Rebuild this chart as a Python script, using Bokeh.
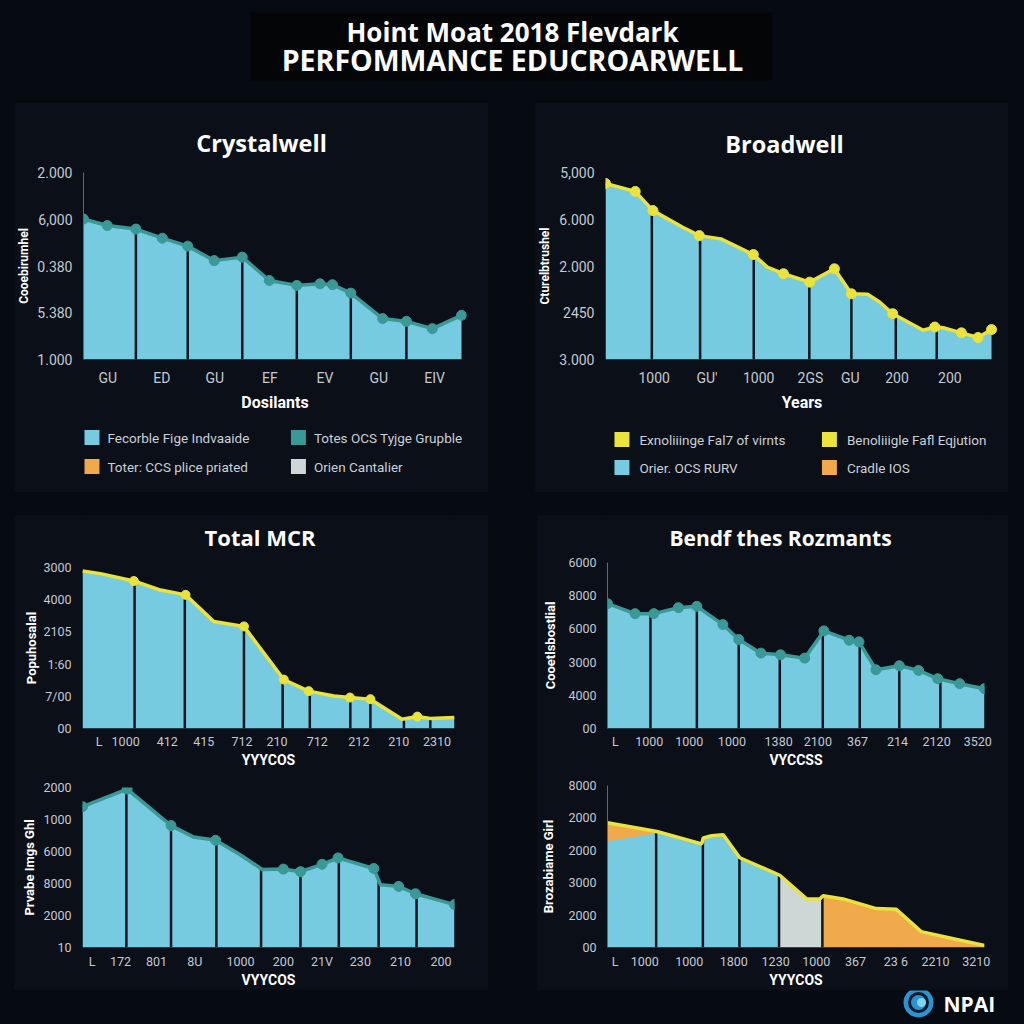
import numpy as np
from bokeh.plotting import figure
from bokeh.models import Range1d, FixedTicker
from bokeh.layouts import row, column
from bokeh.embed import file_html
from bokeh.resources import INLINE
from bokeh.core.properties import value

# ---------------- data ----------------
main_title_1 = "Hoint Moat 2018 Flevdark"
main_title_2 = "PERFOMMANCE EDUCROARWELL"

# Panel 1: Crystalwell
crystal_title = "Crystalwell"
crystal_x = [0, 0.44, 0.97, 1.46, 1.93, 2.42, 2.94, 3.44, 3.95, 4.38, 4.61, 4.95, 5.54, 5.98, 6.46, 7.0]
crystal_y = [4005, 3865, 3790, 3595, 3425, 3115, 3190, 2690, 2585, 2620, 2600, 2420, 1875, 1815, 1660, 1945]
crystal_dividers = [0.97, 1.93, 2.94, 3.95, 4.95, 5.98]
crystal_xticks = [0.45, 1.45, 2.43, 3.45, 4.47, 5.47, 6.5]
crystal_xlabels = ["GU", "ED", "GU", "EF", "EV", "GU", "EIV"]
crystal_yticks = [1000, 2000, 3000, 4000, 5000]
crystal_ylabels = ["1.000", "5.380", "0.380", "6,000", "2.000"]
crystal_legend = ["Fecorble Fige Indvaaide", "Totes OCS Tyjge Grupble",
                  "Toter: CCS plice priated", "Orien Cantalier"]

# Panel 2: Broadwell
broad_title = "Broadwell"
broad_x = [0, 7.7, 12.3, 20.0, 24.3, 29.9, 38.3, 41.9, 46.1, 52.9, 59.3, 63.7, 67.9, 71.0,
           74.4, 82.3, 85.3, 87.5, 92.2, 96.5, 100]
broad_y = [4765, 4595, 4185, 3830, 3650, 3580, 3245, 2975, 2835, 2655, 2940, 2405, 2395, 2230,
           1980, 1625, 1695, 1680, 1570, 1470, 1640]
broad_marked = [1, 1, 1, 0, 1, 0, 1, 0, 1, 1, 1, 1, 0, 0, 1, 0, 1, 0, 1, 1, 1]
broad_dividers = [12.0, 24.5, 38.4, 52.8, 63.7, 75.2, 85.8]
broad_xticks = [12.6, 26.3, 39.7, 53.1, 63.4, 75.5, 89.2]
broad_xlabels = ["1000", "GU'", "1000", "2GS", "GU", "200", "200"]
broad_yticks = [1000, 2000, 3000, 4000, 5000]
broad_ylabels = ["3.000", "2450", "2.000", "6.000", "5,000"]
broad_legend = ["Exnoliiinge Fal7 of virnts", "Benoliiigle Fafl Eqjution",
                "Orier. OCS RURV", "Cradle IOS"]

# Panel 3: Total MCR
mcr_title = "Total MCR"
mcr_x = [0, 4.8, 13.8, 21.0, 27.7, 35.3, 43.4, 54.1, 60.8, 67.6, 71.9, 77.4, 85.9, 90.0, 93.5, 100]
mcr_y = [4.89, 4.81, 4.58, 4.30, 4.15, 3.32, 3.17, 1.52, 1.16, 1.01, 0.96, 0.91, 0.29, 0.37, 0.31, 0.34]
mcr_marked = [0, 0, 1, 0, 1, 0, 1, 1, 1, 0, 1, 1, 0, 1, 0, 0]
mcr_dividers = [14.0, 27.5, 43.4, 53.8, 61.1, 72.0, 77.4, 86.4, 93.5]
mcr_xticks = [4.5, 11.6, 22.8, 32.6, 42.9, 52.3, 63.1, 74.3, 85.0, 95.3]
mcr_xlabels = ["L", "1000", "412", "415", "712", "210", "712", "212", "210", "2310"]
mcr_yticks = [0, 1, 2, 3, 4, 5]
mcr_ylabels = ["00", "7/00", "1:60", "2105", "4000", "3000"]

# Panel 4: Bendf thes Rozmants
bendf_title = "Bendf thes Rozmants"
bendf_x = [0, 7.3, 12.3, 18.8, 23.7, 30.6, 34.8, 40.7, 45.9, 52.3, 57.4, 64.1, 66.7, 71.2,
           77.4, 82.5, 87.6, 93.4, 100]
bendf_y = [3.76, 3.46, 3.46, 3.64, 3.68, 3.13, 2.68, 2.27, 2.22, 2.12, 2.94, 2.66, 2.61, 1.77,
           1.89, 1.75, 1.50, 1.35, 1.20]
bendf_dividers = [11.4, 23.7, 34.8, 45.7, 57.1, 66.9, 77.4, 88.3]
bendf_xticks = [2.1, 11.1, 21.7, 33.0, 45.4, 55.8, 66.3, 76.9, 87.3, 98.2]
bendf_xlabels = ["L", "1000", "1000", "1000", "1380", "2100", "367", "214", "2120", "3520"]
bendf_yticks = [0, 1, 2, 3, 4, 5]
bendf_ylabels = ["00", "4000", "3000", "6000", "8000", "6000"]

# Panel 5: lower-left chart
p5_x = [0, 12.0, 23.8, 29.9, 35.8, 42.5, 48.3, 54.0, 58.6, 64.4, 68.7, 78.3, 80.1, 85.0, 89.5, 100]
p5_y = [4.40, 4.95, 3.81, 3.45, 3.35, 2.89, 2.44, 2.45, 2.37, 2.60, 2.80, 2.47, 1.96, 1.91, 1.68, 1.34]
p5_marked = [1, 1, 1, 0, 1, 0, 0, 1, 1, 1, 1, 1, 0, 1, 1, 1]
p5_dividers = [11.8, 23.8, 36.0, 48.0, 58.6, 68.9, 79.6, 89.8]
p5_xticks = [2.6, 10.2, 19.9, 30.2, 42.5, 54.0, 64.4, 74.7, 85.5, 96.4]
p5_xlabels = ["L", "172", "801", "8U", "1000", "200", "21V", "230", "210", "200"]
p5_yticks = [0, 1, 2, 3, 4, 5]
p5_ylabels = ["10", "2000", "8000", "6000", "1000", "2000"]

# Panel 6: lower-right chart (stacked colour regions)
p6_x = [0, 13.1, 25.0, 25.4, 27.6, 30.7, 35.1, 45.7, 52.8, 56.3, 57.2, 62.5, 71.3, 76.6, 83.2, 100]
p6_total = [3.85, 3.58, 3.20, 3.38, 3.45, 3.48, 2.77, 2.23, 1.50, 1.50, 1.60, 1.50, 1.20, 1.18, 0.49, 0.06]
p6_base_x = [0, 13.1]
p6_base = [3.28, 3.53]
p6_bounds = [0, 45.5, 57.0, 100]
p6_dividers = [12.9, 25.3, 35.0, 45.5, 57.0]
p6_xticks = [2.0, 9.9, 21.7, 33.5, 44.6, 55.4, 65.8, 76.5, 87.0, 97.8]
p6_xlabels = ["L", "1000", "1000", "1800", "1230", "1000", "367", "23 6", "2210", "3210"]
p6_yticks = [0, 1, 2, 3, 4, 5]
p6_ylabels = ["00", "2000", "3000", "2000", "2000", "8000"]

# ---------------- style ----------------
PAGE_BG = "#060a11"
PANEL_BG = "#0a0f18"
BLUE = "#77cbe0"
TEAL = "#3a9896"
YELLOW = "#e9e33c"
ORANGE = "#f0a94b"
GRAY = "#cdd7d6"
DIV = "#0c1520"
TICK = "#c3cad2"


def plain(width, height, xr, yr, bg, left=0, right=0):
    f = figure(width=width, height=height, x_range=Range1d(*xr), y_range=Range1d(*yr),
               output_backend="svg", toolbar_location=None, x_axis_location=None,
               y_axis_location=None, min_border=0, background_fill_color=bg,
               border_fill_color=bg)
    f.min_border_left = left
    f.min_border_right = right
    f.outline_line_color = None
    f.grid.visible = False
    return f


def filler(width, height):
    return plain(width, height, (0, 1), (0, 1), PAGE_BG)


def title_fig(width, height, fig_x0, fig_y0, left, right, text, cx, cy, size):
    # frame in page coordinates
    f = plain(width, height, (fig_x0 + left, fig_x0 + width - right),
              (fig_y0 + height, fig_y0), PANEL_BG, left=left, right=right)
    f.text(x=[cx], y=[cy], text=[text], text_align="center", text_baseline="middle",
           text_font=value("Open Sans"), text_font_style="bold", text_font_size=size,
           text_color="white")
    return f


def chart(width, height, borders, x_lim, y_lim, y_ticks, y_labels, x_ticks, x_labels,
          x_title, y_title, big=False, ylab_standoff=5, xlab_standoff=4, xlabel_standoff=10,
          yline=False, ytitle_size="12px"):
    l, r, t, b = borders
    p = figure(width=width, height=height, x_range=Range1d(*x_lim), y_range=Range1d(*y_lim),
               output_backend="svg", toolbar_location=None, title=None,
               min_border_left=l, min_border_right=r, min_border_top=t, min_border_bottom=b,
               background_fill_color=PANEL_BG, border_fill_color=PANEL_BG)
    p.outline_line_color = None
    p.xgrid.visible = False
    p.ygrid.visible = False
    tick_fs = "14px" if big else "12.5px"
    for ax in (p.xaxis[0], p.yaxis[0]):
        ax.major_tick_line_color = None
        ax.minor_tick_line_color = None
        ax.major_tick_out = 0
        ax.major_tick_in = 0
        ax.minor_tick_out = 0
        ax.minor_tick_in = 0
        ax.major_label_text_font = "Roboto"
        ax.major_label_text_font_size = tick_fs
        ax.major_label_text_color = TICK
        ax.axis_label_text_font = "Roboto"
        ax.axis_label_text_font_style = "bold"
        ax.axis_label_text_color = "white"
    xa, ya = p.xaxis[0], p.yaxis[0]
    xa.axis_line_color = None
    ya.axis_line_color = "#5f6873" if yline else None
    xa.ticker = FixedTicker(ticks=x_ticks)
    xa.major_label_overrides = {k: v for k, v in zip(x_ticks, x_labels)}
    ya.ticker = FixedTicker(ticks=y_ticks)
    ya.major_label_overrides = {k: v for k, v in zip(y_ticks, y_labels)}
    xa.major_label_standoff = xlabel_standoff
    ya.major_label_standoff = 11
    xa.axis_label = x_title
    ya.axis_label = y_title
    xa.axis_label_standoff = xlab_standoff
    ya.axis_label_standoff = ylab_standoff
    xa.axis_label_text_font_size = "16px" if big else "14px"
    ya.axis_label_text_font_size = ytitle_size
    return p


def area(p, xs, ys, base, dividers, line_color, marked=None, msize=10):
    xs = np.asarray(xs, dtype=float)
    ys = np.asarray(ys, dtype=float)
    p.varea(x=xs, y1=base, y2=ys, fill_color=BLUE)
    d = np.asarray(dividers, dtype=float)
    p.segment(x0=d, y0=base, x1=d, y1=np.interp(d, xs, ys), line_color=DIV, line_width=2.5)
    p.line(xs, ys, line_color=line_color, line_width=3.5)
    m = np.ones(len(xs), bool) if marked is None else np.asarray(marked, bool)
    p.scatter(xs[m], ys[m], size=msize, fill_color=line_color, line_color=line_color)


def legend_fig(width, fig_x0, left, right, labels, colors, col_x, text_x, row_y):
    # frame spans page x (fig_x0+left .. fig_x0+width-right); page y 415 (top) .. 492 (bottom)
    f = plain(width, 77, (fig_x0 + left, fig_x0 + width - right), (492, 415), PANEL_BG,
              left=left, right=right)
    sx = np.array([col_x[0], col_x[1], col_x[0], col_x[1]], float)
    tx = np.array([text_x[0], text_x[1], text_x[0], text_x[1]], float)
    sy = np.array([row_y[0], row_y[0], row_y[1], row_y[1]], float)
    f.quad(left=sx, right=sx + 15, top=sy - 7.5, bottom=sy + 7.5, fill_color=colors,
           line_color=None)
    f.text(x=tx, y=sy, text=labels, text_align="left", text_baseline="middle",
           text_font=value("Roboto"), text_font_size="13.5px", text_color="#c9d0d7")
    return f


# ---------------- header (page y 0..103) ----------------
hdr = plain(1024, 103, (0, 1024), (103, 0), PAGE_BG)
hdr.quad(left=[250], right=[772], top=[12], bottom=[80], fill_color="#040507", line_color=None)
hdr.text(x=[512], y=[31], text=[main_title_1], text_align="center", text_baseline="middle",
         text_font=value("Open Sans"), text_font_style="bold", text_font_size="26px",
         text_color="white")
hdr.text(x=[512], y=[59], text=[main_title_2], text_align="center", text_baseline="middle",
         text_font=value("Open Sans"), text_font_style="bold", text_font_size="28.5px",
         text_color="white")

# ---------------- panel 1 (page x 14..488, y 103..492) ----------------
t1 = title_fig(474, 60, 14, 103, 68, 22, crystal_title, 260.5, 142, "23.5px")
# frame spans page x 82..466; the data (0..7) end at page x 461
p1 = chart(474, 252, (68, 22, 9, 56), (0, 7 * 384 / 379), (1000, 5000), crystal_yticks,
           crystal_ylabels, crystal_xticks, crystal_xlabels, "Dosilants", "Cooebirumhel",
           big=True, ylab_standoff=3, yline=True)
area(p1, crystal_x, crystal_y, 1000, crystal_dividers, TEAL)
l1 = legend_fig(474, 14, 68, 22, crystal_legend, [BLUE, TEAL, ORANGE, GRAY], (83, 290),
                (106, 313), (437, 466))

# ---------------- panel 2 (page x 535..1008) ----------------
t2 = title_fig(473, 60, 535, 103, 69, 10, broad_title, 783.5, 143, "23.5px")
# frame spans page x 604..998; the data (0..100) end at page x 991
p2 = chart(473, 252, (69, 10, 9, 56), (0, 100 * 394 / 387), (1000, 5000), broad_yticks,
           broad_ylabels, broad_xticks, broad_xlabels, "Years", "Cturelbtrushel",
           big=True, ylab_standoff=4)
area(p2, broad_x, broad_y, 1000, broad_dividers, YELLOW, broad_marked)
l2 = legend_fig(473, 535, 69, 10, broad_legend, [YELLOW, YELLOW, BLUE, ORANGE], (613, 821),
                (638, 846), (439, 467))

# ---------------- panel 3 (page x 14..488, y 515..770) ----------------
t3 = title_fig(474, 37, 14, 515, 68, 34, mcr_title, 259.5, 536, "22px")
p3 = chart(474, 218, (68, 34, 15, 41), (0, 100), (0, 5), mcr_yticks, mcr_ylabels, mcr_xticks,
           mcr_xlabels, "YYYCOS", "Popuhosalal", ylab_standoff=1, xlab_standoff=0,
           xlabel_standoff=5, ytitle_size="13px")
area(p3, mcr_x, mcr_y, 0, mcr_dividers, YELLOW, mcr_marked, msize=9)

# ---------------- panel 5 (page y 770..990) ----------------
p5 = chart(474, 220, (68, 34, 17, 42), (0, 100), (0, 5), p5_yticks, p5_ylabels, p5_xticks,
           p5_xlabels, "VYYCOS", "Prvabe Imgs Ghl", ylab_standoff=3, xlab_standoff=0,
           xlabel_standoff=6, ytitle_size="13px")
area(p5, p5_x, p5_y, 0, p5_dividers, TEAL, p5_marked)

# ---------------- panel 4 (page x 537..1008) ----------------
t4 = title_fig(471, 37, 537, 515, 70, 24, bendf_title, 780, 537, "21px")
p4 = chart(471, 218, (70, 24, 10, 41), (0, 100), (0, 5), bendf_yticks, bendf_ylabels,
           bendf_xticks, bendf_xlabels, "VYCCSS", "Cooetlsbostlial", ylab_standoff=7,
           xlab_standoff=0, xlabel_standoff=5, yline=True, ytitle_size="13px")
area(p4, bendf_x, bendf_y, 0, bendf_dividers, TEAL)

# ---------------- panel 6 ----------------
p6 = chart(471, 220, (70, 24, 15, 41), (0, 100), (0, 5), p6_yticks, p6_ylabels, p6_xticks,
           p6_xlabels, "YYYCOS", "Brozabiame Girl", ylab_standoff=9, xlab_standoff=0,
           xlabel_standoff=6, yline=True, ytitle_size="13px")
tx = np.asarray(p6_x, float)
ty = np.asarray(p6_total, float)
for (a, b), col in zip(zip(p6_bounds[:-1], p6_bounds[1:]), [BLUE, GRAY, ORANGE]):
    xs = np.array(sorted(set([a, b] + [x for x in p6_x if a < x < b])))
    p6.varea(x=xs, y1=0, y2=np.interp(xs, tx, ty), fill_color=col)
bx = np.asarray(p6_base_x, float)
p6.varea(x=bx, y1=np.asarray(p6_base, float), y2=np.interp(bx, tx, ty), fill_color=ORANGE)
d6 = np.asarray(p6_dividers, float)
top6 = np.where(d6 <= bx[-1], np.interp(d6, bx, p6_base), np.interp(d6, tx, ty))
p6.segment(x0=d6, y0=0, x1=d6, y1=top6, line_color=DIV, line_width=2.5)
p6.line(tx, ty, line_color=YELLOW, line_width=3.5)

# ---------------- footer with logo (page y 990..1024) ----------------
ftr = plain(1024, 34, (0, 1024), (1024, 990), PAGE_BG)
ftr.scatter(x=[918], y=[1002], size=30, fill_color="#2b93d1", line_color=None)
ftr.scatter(x=[918], y=[1002], size=18, fill_color=None, line_color="#0b1a2a", line_width=3)
ftr.scatter(x=[921], y=[1002], size=9, fill_color="#7fd2f0", line_color=None)
ftr.text(x=[943], y=[1003], text=["NPAI"], text_align="left", text_baseline="middle",
         text_font=value("Open Sans"), text_font_style="bold", text_font_size="21px",
         text_color="white")

# ---------------- layout ----------------
panel_css = {"background-color": PANEL_BG}
row1 = row(filler(14, 389), column(t1, p1, l1, styles=panel_css), filler(47, 389),
           column(t2, p2, l2, styles=panel_css), filler(16, 389))
row2 = row(filler(14, 475), column(t3, p3, p5, styles=panel_css), filler(49, 475),
           column(t4, p4, p6, styles=panel_css), filler(16, 475))
layout = column(hdr, row1, filler(1024, 23), row2, ftr)

html = file_html(layout, INLINE)
html = html.replace("</head>",
                    "<style>html,body{background:%s !important;}</style></head>" % PAGE_BG, 1)
open("out.html", "w").write(html)
